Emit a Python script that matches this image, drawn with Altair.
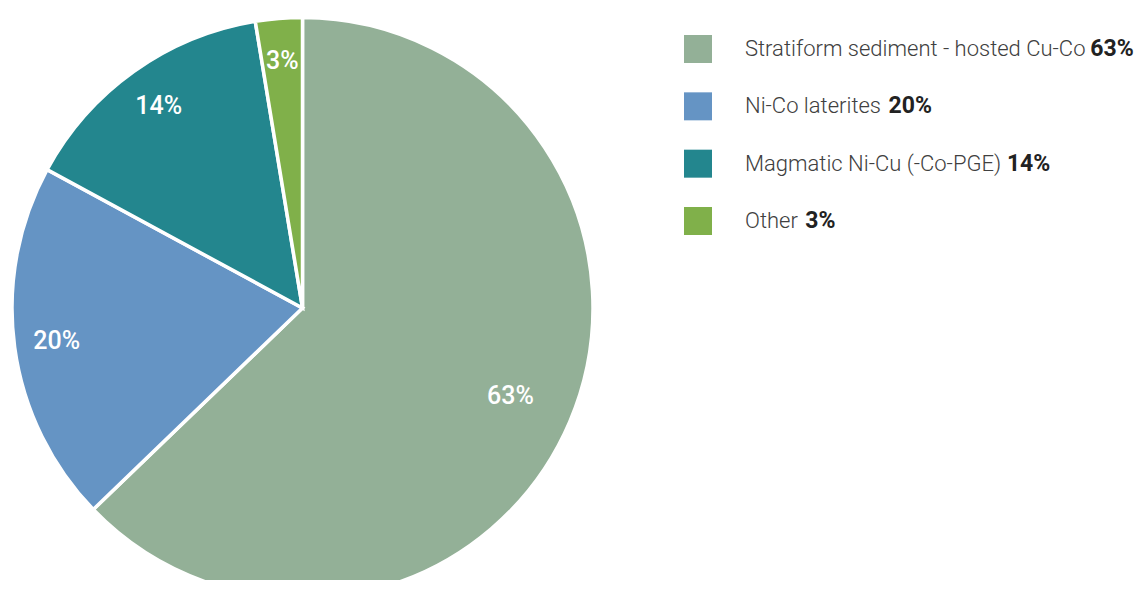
import altair as alt
import pandas as pd

categories = ["Stratiform sediment - hosted Cu-Co", "Ni-Co laterites",
              "Magmatic Ni-Cu (-Co-PGE)", "Other"]
values = [62.8, 20.1, 14.5, 2.6]
labels = ["63%", "20%", "14%", "3%"]
colors = ["#93B097", "#6594C4", "#23868E", "#80B04A"]

# approximate Roboto advance widths (units of 1/2048 em) for legend layout
W = {" ": 507, "-": 553, "(": 699, ")": 711, "A": 1336, "C": 1305, "E": 1137,
     "G": 1364, "M": 1759, "N": 1426, "O": 1376, "P": 1292, "S": 1188,
     "a": 1088, "c": 1045, "d": 1126, "e": 1058, "f": 709, "g": 1123,
     "h": 1102, "i": 486, "l": 486, "m": 1751, "n": 1104, "o": 1141,
     "r": 678, "s": 1031, "t": 655, "u": 1102}
FS = 22
TEXT_X = 737


def text_width(s, size=FS):
    return sum(W.get(ch, 1100) for ch in s) / 2048 * size


df = pd.DataFrame({
    "category": categories,
    "value": values,
    "idx": list(range(len(categories))),
    "label": labels,
})
df["bold_x"] = [TEXT_X + text_width(c) + 8 for c in categories]

base = alt.Chart(df)

theta = alt.Theta("value:Q", stack=True)
color = alt.Color("category:N", scale=alt.Scale(domain=categories, range=colors), legend=None)
order = alt.Order("idx:Q")
cx, cy = alt.value(294.5), alt.value(300)

arcs = base.mark_arc(outerRadius=290.5, stroke="white", strokeWidth=3.5).encode(
    theta=theta, color=color, order=order, x=cx, y=cy)

pie_labels_small = base.mark_text(radius=248, fontSize=25, fontWeight=500, font="Roboto",
                                  fill="white").encode(
    theta=theta, order=order, text="label:N", x=cx, y=cy,
    opacity=alt.condition("datum.value < 50", alt.value(1), alt.value(0)))

pie_labels_big = base.mark_text(radius=226, fontSize=25, fontWeight=500, font="Roboto",
                                fill="white").encode(
    theta=theta, order=order, text="label:N", x=cx, y=cy,
    opacity=alt.condition("datum.value >= 50", alt.value(1), alt.value(0)))

yleg = alt.Y("category:N",
             scale=alt.Scale(type="point", domain=categories, range=[41, 213], padding=0),
             axis=None)

squares = base.mark_square(size=784, opacity=1).encode(
    x=alt.value(690), y=yleg, color=color)

names = base.mark_text(align="left", baseline="middle", fontSize=FS, fontWeight=300,
                       font="Roboto Light, Roboto", fill="#404040").encode(
    x=alt.value(TEXT_X), y=yleg, text="category:N")

pcts = base.mark_text(align="left", baseline="middle", fontSize=23, fontWeight="bold",
                      font="Roboto", fill="#222222").encode(
    x=alt.X("bold_x:Q", scale=None, axis=None), y=yleg, text="label:N")

chart = alt.layer(arcs, pie_labels_small, pie_labels_big, squares, names, pcts).properties(
    width=1131, height=572, padding=0,
    autosize=alt.AutoSizeParams(type="none"),
).configure_view(stroke=None)

chart.save("out.html", embed_options={"renderer": "svg", "actions": False})
